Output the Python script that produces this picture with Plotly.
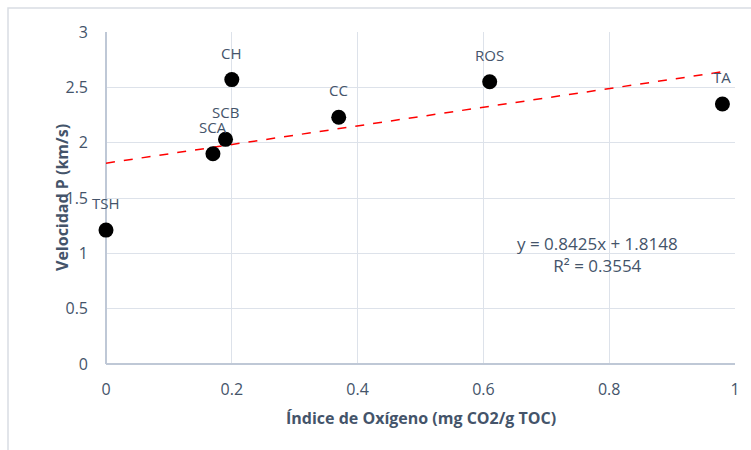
import plotly.graph_objects as go

labels = ["TSH", "SCA", "SCB", "CH", "CC", "ROS", "TA"]
oxygen_index = [0.0, 0.17, 0.19, 0.20, 0.37, 0.61, 0.98]
p_velocity = [1.21, 1.90, 2.03, 2.57, 2.23, 2.55, 2.35]
slope = 0.8425
intercept = 1.8148
r2 = 0.3554

FONT = "Open Sans"
TXT = "#44546A"
GRID = "#DDE2EA"

trend_x = [0.0, max(oxygen_index)]
trend_y = [slope * x + intercept for x in trend_x]

fig = go.Figure()
fig.add_trace(go.Scatter(x=trend_x, y=trend_y, mode="lines",
                         line=dict(color="#FF0000", width=1.5, dash="dash"),
                         hoverinfo="skip", showlegend=False))
fig.add_trace(go.Scatter(x=oxygen_index, y=p_velocity, mode="markers",
                         marker=dict(color="black", size=15),
                         showlegend=False, cliponaxis=False))

annotations = []
for lab, xv, yv in zip(labels, oxygen_index, p_velocity):
    annotations.append(dict(text=lab, x=xv, y=yv, xref="x", yref="y",
                            showarrow=False, yshift=27, xanchor="center",
                            yanchor="middle",
                            font=dict(family=FONT, size=15, color=TXT)))

annotations += [
    dict(text="<b>Índice de Oxígeno (mg CO2/g TOC)</b>", xref="paper", yref="paper",
         x=0.5, y=(364 - 418) / 332, showarrow=False,
         xanchor="center", yanchor="middle", font=dict(size=16, color=TXT)),
    dict(text="<b>Velocidad P (km/s)</b>", xref="paper", yref="paper",
         x=(62 - 106) / 629, y=0.5, showarrow=False, textangle=-90,
         xanchor="center", yanchor="middle", font=dict(size=16, color=TXT)),
    dict(text=f"y = {slope}x + {intercept}<br>R² = {r2}", x=(597 - 106) / 629,
         y=(364 - 254) / 110.67,
         xref="x", yref="y", showarrow=False, align="center",
         xanchor="center", yanchor="middle", font=dict(size=17, color=TXT)),
]

fig.update_layout(
    width=751, height=450,
    margin=dict(l=106, r=16, t=32, b=86, autoexpand=False),
    paper_bgcolor="white", plot_bgcolor="white",
    font=dict(family=FONT, size=15, color=TXT),
    xaxis=dict(range=[0, 1], dtick=0.2, showgrid=True, gridcolor=GRID,
               zeroline=True, zerolinecolor="#BFC8D6", zerolinewidth=1.5,
               tickfont=dict(size=16), ticks="", showline=False,
               ticklabelstandoff=14),
    yaxis=dict(range=[0, 3], dtick=0.5, showgrid=True, gridcolor=GRID,
               zeroline=True, zerolinecolor="#BFC8D6", zerolinewidth=1.5,
               tickfont=dict(size=16), ticks="", showline=False,
               ticklabelstandoff=17),
    shapes=[dict(type="rect", xref="paper", yref="paper",
                 x0=(8 - 106) / 629, x1=(770 - 106) / 629,
                 y0=(364 - 470) / 332, y1=(364 - 8) / 332,
                 line=dict(color="#D9DDE3", width=1.5), layer="below")],
    annotations=annotations,
)

fig.write_html("out.html")
